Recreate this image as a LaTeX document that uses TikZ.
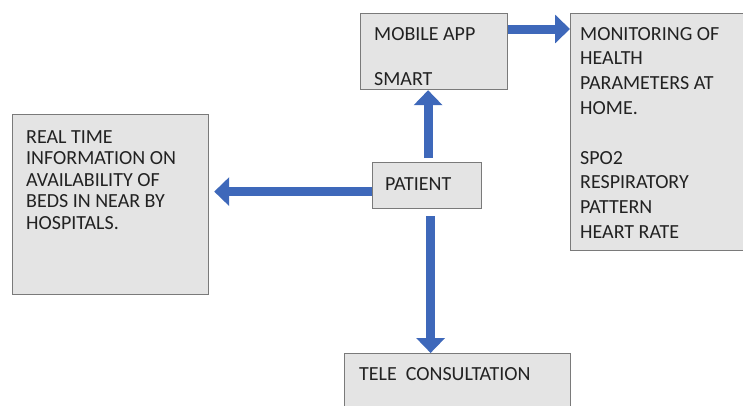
\documentclass[tikz,border=0pt]{standalone}
\usepackage{fontspec}
\setmainfont{Carlito}
\usetikzlibrary{arrows.meta}
\definecolor{boxfill}{HTML}{E4E4E4}
\definecolor{boxline}{HTML}{7A7A7A}
\definecolor{arrowblue}{HTML}{3E68BA}
\definecolor{txt}{HTML}{222222}
\tikzset{
  box/.style={draw=boxline, fill=boxfill, line width=1.2pt, inner sep=0pt, anchor=north west},
  label/.style={anchor=north west, inner sep=0pt, align=left, text=txt},
  blockarrow/.style={draw=arrowblue, line width=9pt, -{Triangle[width=28pt,length=15pt]}},
}
\begin{document}
\begin{tikzpicture}[x=1pt,y=-1pt]
\useasboundingbox (0,0) rectangle (743,405);
% boxes
\node[box, minimum width=147pt, minimum height=76pt] (mobile) at (360,13) {};
\node[box, minimum width=180pt, minimum height=237pt] (mon) at (570,13) {};
\node[box, minimum width=109pt, minimum height=46pt] (patient) at (372,162) {};
\node[box, minimum width=196pt, minimum height=180pt] (real) at (12,114) {};
\node[box, minimum width=226pt, minimum height=60pt] (tele) at (344,353) {};
% texts
\node[label, font=\fontsize{20}{23}\selectfont] (mobiletxt) at (374,27) {MOBILE APP\\[22pt]SMART};
\node[label, font=\fontsize{20}{24.8}\selectfont] (montxt) at (580,27) {MONITORING OF\\HEALTH\\PARAMETERS AT\\HOME.\\[24.8pt]SPO2\\RESPIRATORY\\PATTERN\\HEART RATE};
\node[label, font=\fontsize{20}{21.5}\selectfont] (patienttxt) at (385,177) {PATIENT};
\node[label, font=\fontsize{20}{21.5}\selectfont] (realtxt) at (26,130) {REAL TIME\\INFORMATION ON\\AVAILABILITY OF\\BEDS IN NEAR BY\\HOSPITALS.};
\node[label, font=\fontsize{20}{21.5}\selectfont] (teletxt) at (359,367) {TELE\ \ CONSULTATION};
% arrows
\draw[blockarrow] ([xshift=1pt,yshift=4pt]patient.north) -- ([xshift=1pt]patient.north |- mobile.south);
\draw[blockarrow] ([yshift=-16pt]mobile.north east) -- ([yshift=-16pt]mobile.north east -| mon.west);
\draw[blockarrow] ([yshift=-6pt]patient.west) -- ([yshift=-6pt,xshift=5pt]patient.west -| real.east);
\draw[blockarrow] ([xshift=3.5pt,yshift=-7pt]patient.south) -- ([xshift=3.5pt]patient.south |- tele.north);
\end{tikzpicture}
\end{document}
